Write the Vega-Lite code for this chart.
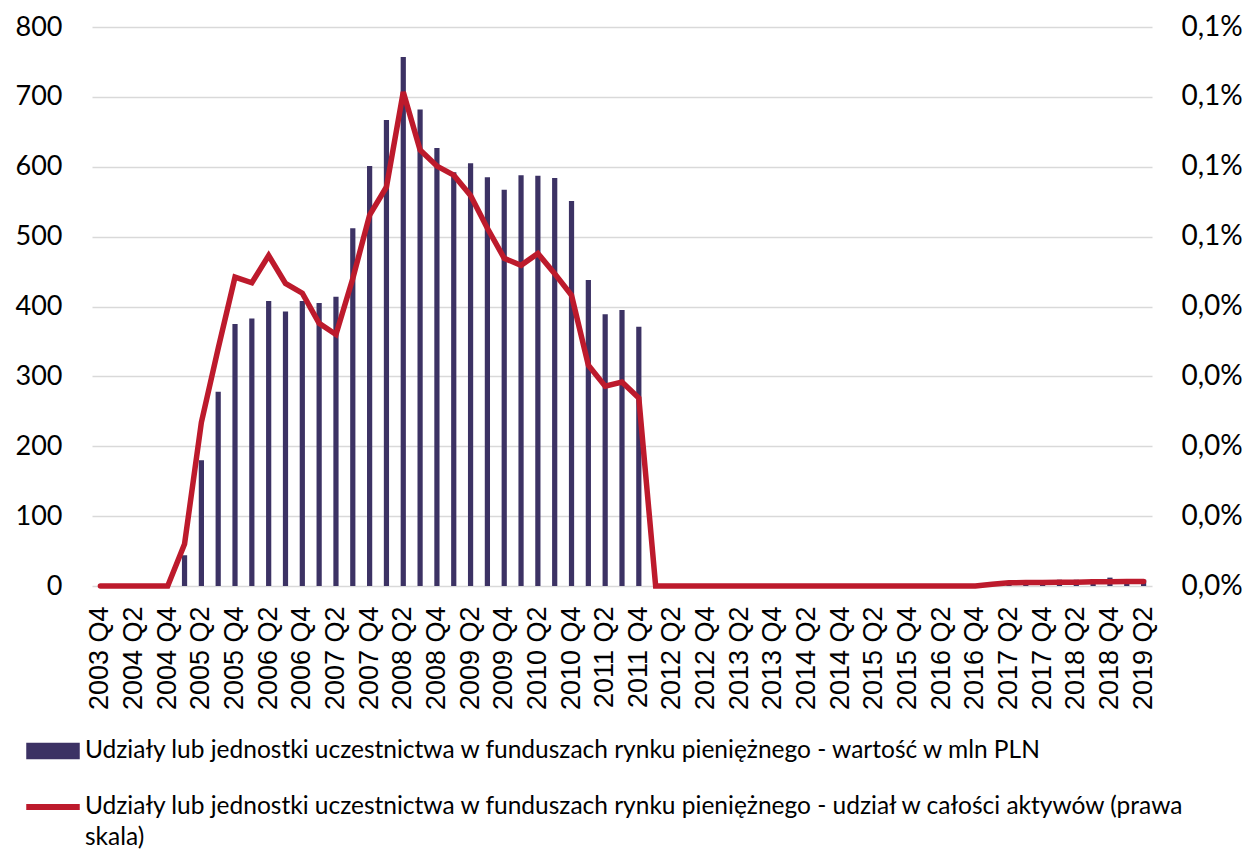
{
  "$schema": "https://vega.github.io/schema/vega-lite/v6.json",
  "autosize": {"type": "none"},
  "padding": {"left": 92, "top": 27, "right": 98, "bottom": 265},
  "width": 1060,
  "height": 559,
  "background": "white",
  "config": {
    "view": {"stroke": null},
    "axis": {"labelColor": "black", "domain": false, "ticks": false, "title": null}
  },
  "data": {
    "values": [
      {"q": "2003 Q4", "v": 0, "s": 0},
      {"q": "2004 Q1", "v": 0, "s": 0},
      {"q": "2004 Q2", "v": 0, "s": 0},
      {"q": "2004 Q3", "v": 0, "s": 0},
      {"q": "2004 Q4", "v": 0, "s": 0},
      {"q": "2005 Q1", "v": 44, "s": 0.000060},
      {"q": "2005 Q2", "v": 180, "s": 0.000234},
      {"q": "2005 Q3", "v": 278, "s": 0.000340},
      {"q": "2005 Q4", "v": 375, "s": 0.000442},
      {"q": "2006 Q1", "v": 383, "s": 0.000434},
      {"q": "2006 Q2", "v": 408, "s": 0.000473},
      {"q": "2006 Q3", "v": 393, "s": 0.000433},
      {"q": "2006 Q4", "v": 408, "s": 0.000419},
      {"q": "2007 Q1", "v": 405, "s": 0.000376},
      {"q": "2007 Q2", "v": 414, "s": 0.000360},
      {"q": "2007 Q3", "v": 512, "s": 0.000440},
      {"q": "2007 Q4", "v": 601, "s": 0.000531},
      {"q": "2008 Q1", "v": 667, "s": 0.000571},
      {"q": "2008 Q2", "v": 757, "s": 0.000707},
      {"q": "2008 Q3", "v": 682, "s": 0.000624},
      {"q": "2008 Q4", "v": 627, "s": 0.000601},
      {"q": "2009 Q1", "v": 592, "s": 0.000588},
      {"q": "2009 Q2", "v": 605, "s": 0.000559},
      {"q": "2009 Q3", "v": 585, "s": 0.000512},
      {"q": "2009 Q4", "v": 567, "s": 0.000469},
      {"q": "2010 Q1", "v": 588, "s": 0.000459},
      {"q": "2010 Q2", "v": 587, "s": 0.000476},
      {"q": "2010 Q3", "v": 584, "s": 0.000447},
      {"q": "2010 Q4", "v": 551, "s": 0.000416},
      {"q": "2011 Q1", "v": 438, "s": 0.000316},
      {"q": "2011 Q2", "v": 389, "s": 0.000286},
      {"q": "2011 Q3", "v": 395, "s": 0.000292},
      {"q": "2011 Q4", "v": 371, "s": 0.000269},
      {"q": "2012 Q1", "v": 0, "s": 0},
      {"q": "2012 Q2", "v": 0, "s": 0},
      {"q": "2012 Q3", "v": 0, "s": 0},
      {"q": "2012 Q4", "v": 0, "s": 0},
      {"q": "2013 Q1", "v": 0, "s": 0},
      {"q": "2013 Q2", "v": 0, "s": 0},
      {"q": "2013 Q3", "v": 0, "s": 0},
      {"q": "2013 Q4", "v": 0, "s": 0},
      {"q": "2014 Q1", "v": 0, "s": 0},
      {"q": "2014 Q2", "v": 0, "s": 0},
      {"q": "2014 Q3", "v": 0, "s": 0},
      {"q": "2014 Q4", "v": 0, "s": 0},
      {"q": "2015 Q1", "v": 0, "s": 0},
      {"q": "2015 Q2", "v": 0, "s": 0},
      {"q": "2015 Q3", "v": 0, "s": 0},
      {"q": "2015 Q4", "v": 0, "s": 0},
      {"q": "2016 Q1", "v": 0, "s": 0},
      {"q": "2016 Q2", "v": 0, "s": 0},
      {"q": "2016 Q3", "v": 0, "s": 0},
      {"q": "2016 Q4", "v": 0, "s": 0},
      {"q": "2017 Q1", "v": 0, "s": 0.0000025},
      {"q": "2017 Q2", "v": 7, "s": 0.0000045},
      {"q": "2017 Q3", "v": 8, "s": 0.000005},
      {"q": "2017 Q4", "v": 8, "s": 0.000005},
      {"q": "2018 Q1", "v": 9, "s": 0.0000055},
      {"q": "2018 Q2", "v": 9, "s": 0.0000055},
      {"q": "2018 Q3", "v": 10, "s": 0.000006},
      {"q": "2018 Q4", "v": 12, "s": 0.000006},
      {"q": "2019 Q1", "v": 10, "s": 0.0000065},
      {"q": "2019 Q2", "v": 9, "s": 0.0000065}
    ]
  },
  "encoding": {
    "x": {
      "field": "q", "type": "nominal", "sort": null,
      "scale": {"paddingInner": 0, "paddingOuter": 0},
      "axis": {
        "values": ["2003 Q4","2004 Q2","2004 Q4","2005 Q2","2005 Q4","2006 Q2","2006 Q4","2007 Q2","2007 Q4","2008 Q2","2008 Q4","2009 Q2","2009 Q4","2010 Q2","2010 Q4","2011 Q2","2011 Q4","2012 Q2","2012 Q4","2013 Q2","2013 Q4","2014 Q2","2014 Q4","2015 Q2","2015 Q4","2016 Q2","2016 Q4","2017 Q2","2017 Q4","2018 Q2","2018 Q4","2019 Q2"],
        "labelAngle": -90,
        "labelFont": "Liberation Sans",
        "labelFontSize": 27,
        "labelPadding": 20,
        "grid": false
      }
    }
  },
  "layer": [
    {
      "mark": {"type": "bar", "width": {"band": 0.31}},
      "encoding": {
        "y": {
          "field": "v", "type": "quantitative",
          "scale": {"domain": [0, 800]},
          "axis": {
            "orient": "left", "values": [0,100,200,300,400,500,600,700,800],
            "labelFont": "Lato", "labelFontSize": 27, "labelPadding": 30,
            "grid": true, "gridColor": "#d9d9d9", "gridWidth": 1.5
          }
        },
        "color": {
          "datum": "Udziały lub jednostki uczestnictwa w funduszach rynku pieniężnego - wartość w mln PLN",
          "type": "nominal",
          "scale": {
            "domain": [
              "Udziały lub jednostki uczestnictwa w funduszach rynku pieniężnego - wartość w mln PLN",
              "Udziały lub jednostki uczestnictwa w funduszach rynku pieniężnego - udział w całości aktywów (prawa skala)"
            ],
            "range": ["#3c3264", "#bd1a2c"]
          },
          "legend": {
            "orient": "none",
            "legendX": -66,
            "legendY": 697,
            "direction": "vertical",
            "title": null,
            "symbolType": "M-1,-0.29H1V0.29H-1Z",
            "symbolSize": 2704,
            "labelFont": "Lato",
            "labelFontSize": 24.5,
            "labelColor": "black",
            "labelLimit": 1300,
            "labelOffset": 5,
            "rowPadding": 17,
            "labelExpr": "datum.label === 'Udziały lub jednostki uczestnictwa w funduszach rynku pieniężnego - udział w całości aktywów (prawa skala)' ? ['Udziały lub jednostki uczestnictwa w funduszach rynku pieniężnego - udział w całości aktywów (prawa', 'skala)'] : datum.label",
            "encode": {
              "symbols": {
                "update": {
                  "shape": {"signal": "datum.value === 'Udziały lub jednostki uczestnictwa w funduszach rynku pieniężnego - wartość w mln PLN' ? 'M-1,-0.29H1V0.29H-1Z' : 'M-1,-0.09H1V0.09H-1Z'"},
                  "fill": {"scale": "color", "field": "value"},
                  "stroke": {"value": "transparent"},
                  "opacity": {"value": 1},
                  "fillOpacity": {"value": 1}
                }
              },
              "labels": {
                "update": {"lineHeight": {"value": 31}}
              }
            }
          }
        }
      }
    },
    {
      "mark": {"type": "line", "strokeWidth": 5.5, "strokeCap": "round"},
      "encoding": {
        "y": {
          "field": "s", "type": "quantitative",
          "scale": {"domain": [0, 0.0008]},
          "axis": {
            "orient": "right", "values": [0,0.0001,0.0002,0.0003,0.0004,0.0005,0.0006,0.0007,0.0008],
            "labelExpr": "replace(format(datum.value, '.1%'), '.', ',')",
            "labelFont": "Lato", "labelFontSize": 28, "labelPadding": 29,
            "grid": false
          }
        },
        "color": {"datum": "Udziały lub jednostki uczestnictwa w funduszach rynku pieniężnego - udział w całości aktywów (prawa skala)", "type": "nominal"}
      }
    }
  ],
  "resolve": {"scale": {"y": "independent"}}
}
